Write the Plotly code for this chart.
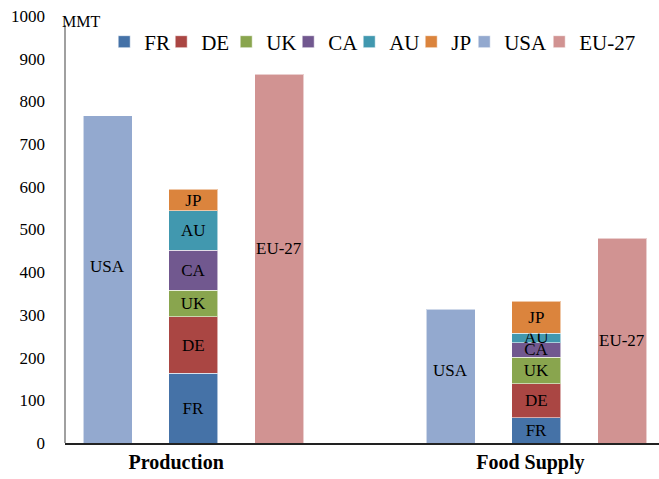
import plotly.graph_objects as go

categories = ["Production", "Food Supply"]
usa = [766, 313]
eu27 = [864, 480]
fr = [163, 59]
de = [133, 80]
uk = [62, 62]
ca = [93, 34]
au = [93, 22]
jp = [50, 75]
yticks = [0, 100, 200, 300, 400, 500, 600, 700, 800, 900, 1000]

FONT = "Liberation Serif, Times New Roman, serif"

# slot layout: each category has 3 slots (USA, stacked countries, EU-27), one empty slot between groups
group_step = 4
pos_usa = [i * group_step + 0 for i in range(len(categories))]
pos_stack = [i * group_step + 1 for i in range(len(categories))]
pos_eu = [i * group_step + 2 for i in range(len(categories))]

stack_series = [
    ("FR", fr, "#4572A7", 12),
    ("DE", de, "#AA4643", 20),
    ("UK", uk, "#89A54E", 17),
    ("CA", ca, "#71588F", 16),
    ("AU", au, "#4198AF", 17),
    ("JP", jp, "#DB843D", 8),
]

BW = 0.571
edge = dict(color="rgba(255,255,255,0.55)", width=1)
txtfont = dict(family=FONT, size=17, color="black")

fig = go.Figure()
for name, vals, col, lw in stack_series:
    fig.add_trace(go.Bar(
        name=name, x=pos_stack, y=vals, width=BW,
        marker=dict(color=col, line=edge),
        text=[name] * len(vals), textposition="inside",
        insidetextanchor="middle", textangle=0,
        textfont=txtfont, legendwidth=lw,
    ))

fig.add_trace(go.Bar(
    name="USA", x=pos_usa, y=usa, width=BW,
    marker=dict(color="#93A9CF", line=edge),
    legendwidth=30,
))
fig.add_trace(go.Bar(
    name="EU-27", x=pos_eu, y=eu27, width=BW,
    marker=dict(color="#D19392", line=edge),
))

# labels for the single bars (placed near the middle of each bar, nudged as in the original)
label_annots = []
usa_shift = [13, 6]
eu_shift = [10, 0]
for i in range(len(categories)):
    label_annots.append(dict(text="USA", x=pos_usa[i], y=usa[i] / 2, xref="x", yref="y",
                             yshift=usa_shift[i], showarrow=False, font=txtfont))
    label_annots.append(dict(text="EU-27", x=pos_eu[i], y=eu27[i] / 2, xref="x", yref="y",
                             yshift=eu_shift[i], showarrow=False, font=txtfont))

fig.update_layout(
    width=659, height=479,
    margin=dict(l=65, r=0, t=16, b=36),
    paper_bgcolor="white", plot_bgcolor="white",
    barmode="stack",
    font=dict(family=FONT, color="black"),
    uniformtext=dict(mode="show", minsize=17),
    showlegend=True,
    legend=dict(
        orientation="h", traceorder="normal",
        x=0.066, xanchor="left", y=0.939, yanchor="middle",
        font=dict(family=FONT, size=21, color="black"),
        bgcolor="rgba(0,0,0,0)", itemwidth=30,
    ),
    xaxis=dict(
        range=[-0.496, 6.43],
        tickvals=[0.8, 4.93], ticktext=categories,
        tickfont=dict(family=FONT, size=20, color="black", weight="bold"),
        showgrid=False, zeroline=False,
        showline=True, linecolor="#222222", linewidth=1.5,
        ticks="", automargin=False,
    ),
    yaxis=dict(
        range=[0, 1000], tickvals=yticks,
        tickfont=dict(family=FONT, size=17, color="black"),
        showgrid=False, zeroline=False, showline=False,
        ticks="", ticklabelstandoff=19, automargin=False,
    ),
    shapes=[dict(type="line", xref="paper", x0=0, x1=0, yref="y", y0=0, y1=979,
                 line=dict(color="#808080", width=1.5))],
    annotations=[dict(text="MMT", xref="paper", yref="paper", x=0.027, y=0.986,
                      showarrow=False, font=dict(family=FONT, size=16, color="black"),
                      xanchor="center", yanchor="middle")] + label_annots,
)

fig.write_html("out.html", config={"displayModeBar": False},
               post_script="document.body.style.margin='0';document.body.style.padding='0';")
